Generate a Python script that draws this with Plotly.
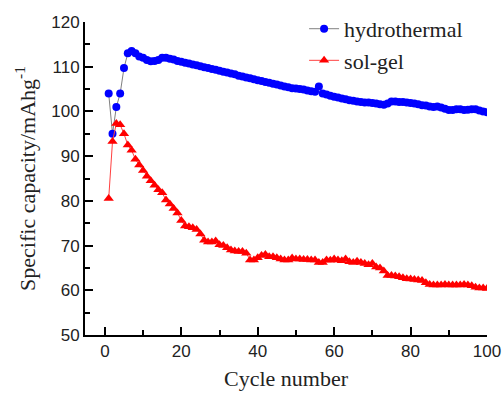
import plotly.graph_objects as go

cycles = list(range(1, 101))

hydrothermal = [
    104.0, 95.0, 101.0, 104.0, 109.7, 113.0, 113.5, 113.0, 112.3, 112.0,
    111.5, 111.2, 111.3, 111.5, 112.0, 112.0, 111.8, 111.6, 111.3, 111.1,
    110.9, 110.7, 110.5, 110.3, 110.1, 109.9, 109.7, 109.5, 109.3, 109.1,
    108.9, 108.7, 108.5, 108.3, 108.0, 107.8, 107.6, 107.4, 107.2, 107.0,
    106.8, 106.6, 106.4, 106.2, 106.0, 105.8, 105.6, 105.4, 105.2, 105.1,
    105.0, 104.9, 104.7, 104.5, 104.4, 105.6, 104.0, 103.8, 103.5, 103.3,
    103.1, 102.9, 102.7, 102.5, 102.4, 102.2, 102.1, 102.0, 102.0, 101.9,
    101.8, 101.6, 101.5, 101.8, 102.2, 102.2, 102.1, 102.1, 102.0, 101.9,
    101.8, 101.6, 101.4, 101.3, 101.1, 101.0, 101.1, 100.9, 100.6, 100.3,
    100.3, 100.5, 100.5, 100.3, 100.4, 100.5, 100.5, 100.2, 100.0, 99.8,
]

sol_gel = [
    80.5, 93.3, 97.3, 97.0, 95.0, 92.5, 91.3, 89.3, 88.0, 86.8,
    85.5, 84.5, 83.5, 82.5, 81.8, 80.2, 79.3, 78.3, 77.3, 75.6,
    74.4, 74.2, 74.0, 73.6, 72.6, 71.2, 70.8, 70.8, 71.0, 70.2,
    70.0, 69.5, 69.0, 68.8, 68.7, 68.7, 68.3, 66.8, 66.8, 67.3,
    67.8, 68.0, 67.5, 67.5, 67.3, 67.0, 66.8, 66.8, 67.2, 67.0,
    67.0, 66.9, 66.9, 66.8, 66.8, 66.2, 66.2, 66.8, 66.7, 67.0,
    66.8, 66.6, 67.0, 66.4, 66.2, 66.5, 66.2, 66.0, 65.7, 66.0,
    65.2, 65.0, 64.3, 63.3, 63.3, 63.2, 63.0, 62.8, 62.6, 62.5,
    62.4, 62.3, 62.2, 61.7, 61.3, 61.2, 61.2, 61.2, 61.3, 61.2,
    61.2, 61.2, 61.2, 61.3, 61.2, 61.0, 60.7, 60.5, 60.5, 60.4,
]

x_ticks = [0, 20, 40, 60, 80, 100]
y_ticks = [50, 60, 70, 80, 90, 100, 110, 120]

SERIF = "Liberation Serif"
SANS = "Liberation Sans"

fig = go.Figure()
fig.add_trace(go.Scatter(
    x=cycles, y=hydrothermal, name="hydrothermal", mode="lines+markers",
    line=dict(color="#808080", width=1),
    marker=dict(symbol="circle", size=8, color="#0000ff"),
))
fig.add_trace(go.Scatter(
    x=cycles, y=sol_gel, name="sol-gel", mode="lines+markers",
    line=dict(color="#ff4040", width=1),
    marker=dict(symbol="triangle-up", size=9, color="#ff0000"),
))

axis_common = dict(
    showline=True, linecolor="black", linewidth=2,
    ticks="inside", ticklen=8, tickwidth=2, tickcolor="black",
    showgrid=False, zeroline=False,
    tickfont=dict(family=SANS, size=17, color="#222"),
    title_font=dict(family=SERIF, size=22, color="#222"),
)

fig.update_xaxes(
    range=[-5.2, 100], tickvals=x_ticks,
    minor=dict(dtick=10, tick0=0, ticks="inside", ticklen=5, tickwidth=2, tickcolor="black"),
    title_text="Cycle number", title_standoff=10,
    **axis_common,
)
fig.update_yaxes(
    range=[50, 120], tickvals=y_ticks,
    minor=dict(dtick=5, tick0=50, ticks="inside", ticklen=5, tickwidth=2, tickcolor="black"),
    title_text="Specific capacity/mAhg<sup>-1</sup>", title_standoff=10,
    **axis_common,
)

fig.update_layout(
    width=504, height=398,
    margin=dict(l=85, r=17, t=22, b=63, autoexpand=False),
    plot_bgcolor="white", paper_bgcolor="white",
    showlegend=True,
    legend=dict(
        x=0.545, y=1.045, xanchor="left", yanchor="top",
        bgcolor="rgba(0,0,0,0)", tracegroupgap=0,
        font=dict(family=SERIF, size=22, color="#222"),
    ),
)

fig.write_html("out.html")
